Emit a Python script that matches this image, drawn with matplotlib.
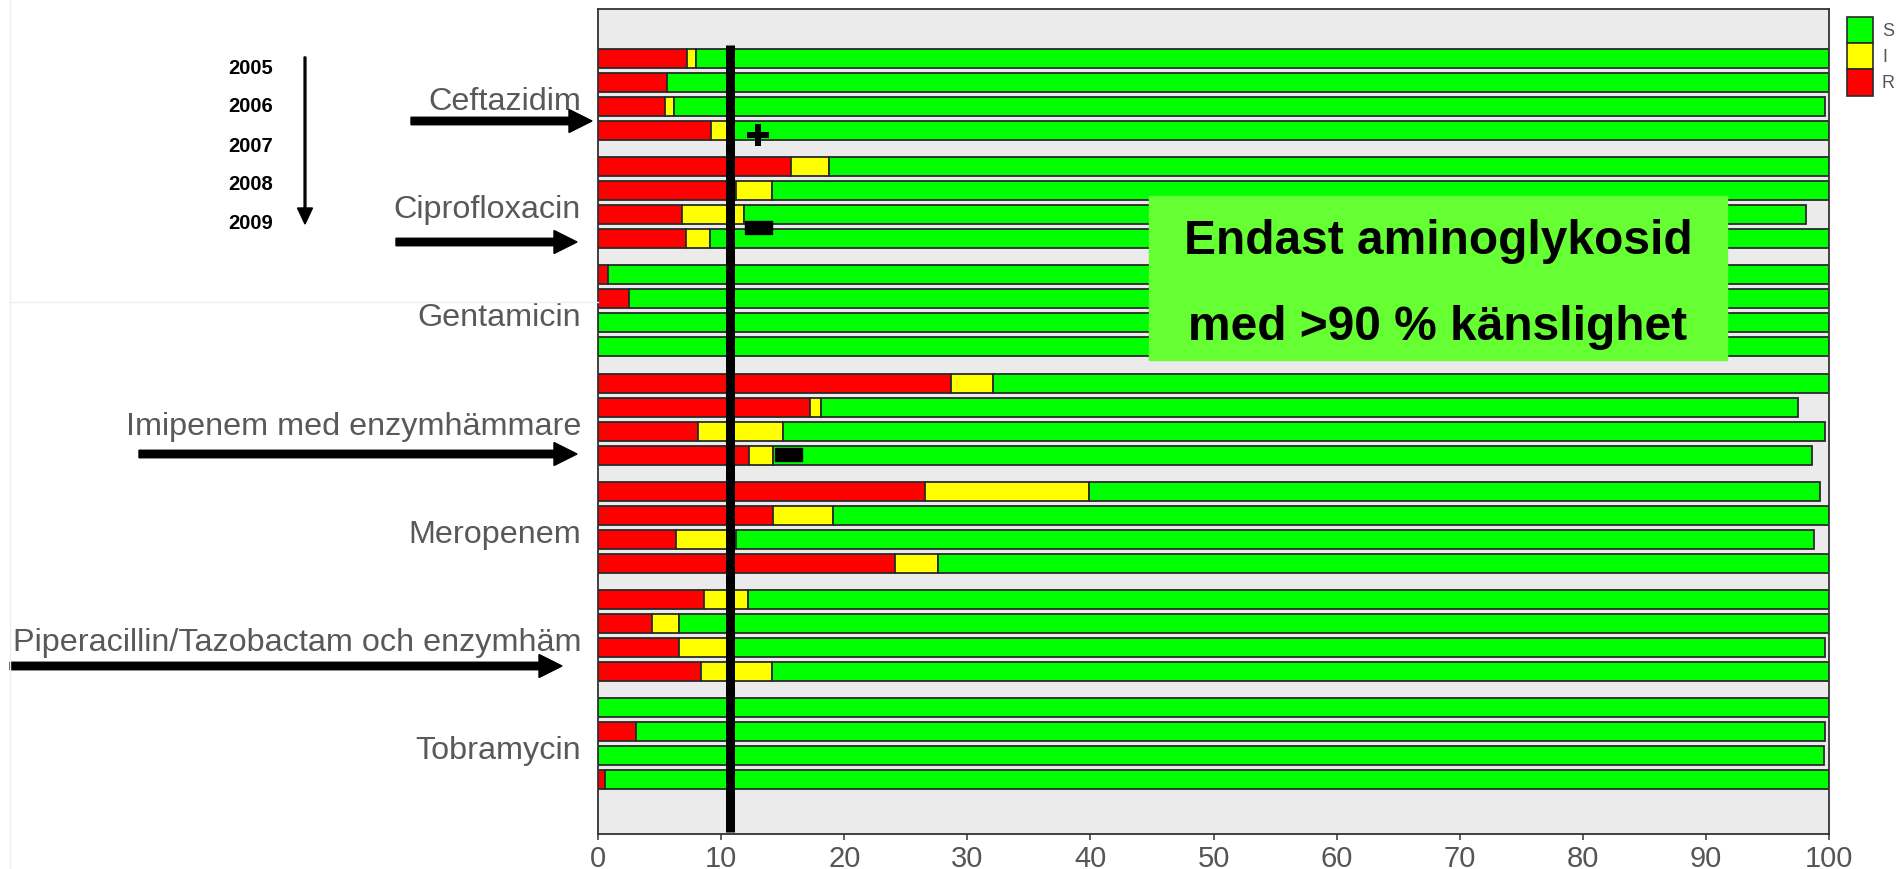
import matplotlib
matplotlib.use("Agg")
import matplotlib.pyplot as plt
from matplotlib.patches import Rectangle, FancyArrow
import numpy as np

plt.rcParams['font.family'] = ['Liberation Sans', 'DejaVu Sans']

# ---------------- data ----------------
categories = ["Ceftazidim", "Ciprofloxacin", "Gentamicin",
              "Imipenem med enzymhämmare", "Meropenem",
              "Piperacillin/Tazobactam och enzymhäm", "Tobramycin"]
years = ["2005", "2006", "2007", "2008", "2009"]
legend_labels = ["S", "I", "R"]

# four bars per antibiotic (top to bottom)
resistant = [7.25, 5.6, 5.45, 9.2,
             15.65, 11.25, 6.85, 7.15,
             0.85, 2.55, 0.0, 0.0,
             28.65, 17.2, 8.15, 12.3,
             26.55, 14.25, 6.3, 24.15,
             8.65, 4.35, 6.6, 8.4,
             0.0, 3.1, 0.0, 0.55]
intermediate = [0.75, 0.0, 0.7, 1.4,
                3.1, 2.85, 5.0, 1.95,
                0.0, 0.0, 0.0, 0.0,
                3.45, 0.95, 6.9, 1.95,
                13.35, 4.85, 4.95, 3.5,
                3.5, 2.2, 3.9, 5.7,
                0.0, 0.0, 0.0, 0.0]
susceptible = [92.0, 94.4, 93.55, 89.4,
               81.25, 85.9, 86.25, 90.9,
               99.15, 97.45, 100.0, 100.0,
               67.9, 79.3, 84.65, 84.35,
               59.4, 80.9, 87.55, 72.35,
               87.85, 93.45, 89.2, 85.9,
               100.0, 96.6, 99.6, 99.45]
x_ticks = [0, 10, 20, 30, 40, 50, 60, 70, 80, 90, 100]
ref_line_x = 10.7

# ---------------- style ----------------
C_S, C_I, C_R = "#00FF00", "#FFFF00", "#FF0000"
EDGE = "#2a2a2a"
W, H = 1896, 870
PX = 0.72  # points per pixel at dpi 100

fig = plt.figure(figsize=(W / 100, H / 100), dpi=100)
fig.patch.set_facecolor("white")

ax = fig.add_axes([598 / W, 1 - 835 / H, (1829 - 598) / W, 825 / H])
ax.set_facecolor("#EBEBEB")

n_per = 4
group_step = 4.5
ypos = np.array([g * group_step + i for g in range(len(categories)) for i in range(n_per)])
R = np.array(resistant)
I = np.array(intermediate)
S = np.array(susceptible)
bh = 0.79
ax.barh(ypos, R, left=0, height=bh, color=C_R, edgecolor=EDGE, linewidth=1.3, zorder=2)
ax.barh(ypos, I, left=R, height=bh, color=C_I, edgecolor=EDGE, linewidth=1.3, zorder=2)
ax.barh(ypos, S, left=R + I, height=bh, color=C_S, edgecolor=EDGE, linewidth=1.3, zorder=2)

ax.set_xlim(0, 100)
ax.set_ylim(30 + 2.25, -2.05)
ax.set_yticks([])
ax.set_xticks(x_ticks)
ax.set_xticklabels([str(t) for t in x_ticks])
ax.tick_params(axis="x", length=6 * PX, width=1.2, color="#444444",
               labelsize=21, labelcolor="#555555", pad=3)
for sp in ax.spines.values():
    sp.set_color("#333333")
    sp.set_linewidth(1.3)

# group labels
for g, name in enumerate(categories):
    yc = g * group_step + 1.5
    ax.text(-1.38, yc + 0.6, name, ha="right", va="baseline", fontsize=23.3,
            color="#595959", clip_on=False)

# reference line and markers
ax.plot([ref_line_x, ref_line_x], [-0.55, 32.17], color="black", lw=9 * PX,
        solid_capstyle="butt", zorder=5, clip_on=False)
ax.plot([13.0], [3.19], marker="+", markersize=23 * PX, mew=6 * PX,
        color="black", zorder=6)
ax.add_patch(Rectangle((11.94, 6.77), 2.2, 0.54, color="black", zorder=6))
ax.add_patch(Rectangle((14.4, 16.21), 2.2, 0.54, color="black", zorder=6))

# ---------------- overlay (pixel coordinates) ----------------
ov = fig.add_axes([0, 0, 1, 1])
ov.set_xlim(0, W)
ov.set_ylim(H, 0)
ov.axis("off")
ov.patch.set_alpha(0)

# faint slide artefacts
ov.plot([10, 10], [0, H], color="#EEEEEE", lw=1)
ov.plot([10, 598], [303, 303], color="#EEEEEE", lw=1)

# years and vertical arrow
year_baselines = [74, 112, 152, 190, 229]
for yr, yb in zip(years, year_baselines):
    ov.text(251, yb, yr, ha="center", va="baseline", fontsize=14.5,
            fontweight="bold", color="black")
ov.add_patch(FancyArrow(305, 58, 0, 167, width=1.8, head_width=15, head_length=16,
                        length_includes_head=True, color="black"))

# horizontal thick arrows
for x0, x1, yy in [(411, 592, 122), (396, 577, 243), (139, 577, 455), (10, 562, 667)]:
    ov.add_patch(FancyArrow(x0, yy, x1 - x0, 0, width=7.5, head_width=23,
                            head_length=23, length_includes_head=True,
                            color="black"))

# green annotation box
ov.add_patch(Rectangle((1149, 197), 578, 164, color="#66FF33", zorder=3))
ov.text(1438, 254, "Endast aminoglykosid", ha="center", va="baseline",
        fontsize=34.5, fontweight="bold", color="black", zorder=4)
ov.text(1438, 340, "med >90 % känslighet", ha="center", va="baseline",
        fontsize=34.5, fontweight="bold", color="black", zorder=4)

# legend
for (y0, y1), col, lab in zip([(18, 44), (44, 70), (70, 97)], [C_S, C_I, C_R], legend_labels):
    ov.add_patch(Rectangle((1847, y0), 26, y1 - y0, facecolor=col,
                           edgecolor=EDGE, linewidth=1.2))
    ov.text(1882, (y0 + y1) / 2, lab, ha="left", va="center", fontsize=13,
            color="#555555")

fig.savefig("out.png", dpi=100)
